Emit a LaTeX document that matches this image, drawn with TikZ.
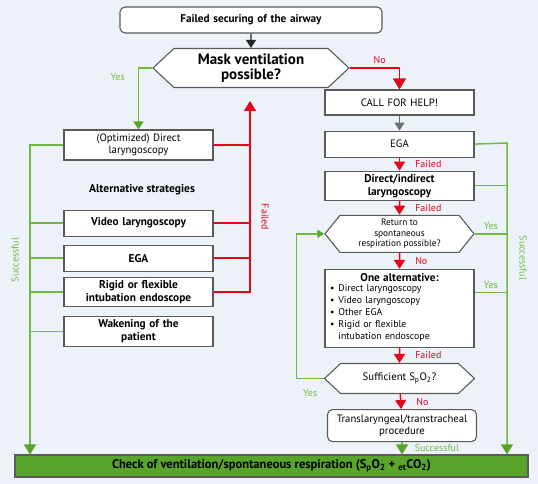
\documentclass[tikz,border=0pt]{standalone}
\usepackage{fontspec}
\setmainfont{PT Sans}
\usetikzlibrary{shapes.geometric, shapes.symbols, arrows.meta, positioning}
\definecolor{mback}{HTML}{EDF2F9}
\definecolor{mred}{HTML}{E3061B}
\definecolor{mgreen}{HTML}{72B944}
\definecolor{mdkgreen}{HTML}{58A52C}
\definecolor{mgray}{HTML}{5A5A5A}
\definecolor{marrow}{HTML}{6F6F6F}
\tikzstyle{box} = [rectangle, draw=mgray, line width=1.1pt, fill=white, text width=143pt, inner xsep=3pt, inner ysep=1.5pt, align=center, font=\fontsize{10.7}{12.6}\selectfont]
\tikzstyle{boldbox} = [box, font=\fontsize{11.3}{13}\selectfont\bfseries]
\tikzstyle{roundbox} = [box, rounded corners=5pt]
\tikzstyle{decision} = [signal, signal to=west and east, draw=mgray, line width=1.1pt, fill=white, align=center, inner sep=1pt]
\tikzstyle{failline} = [mred, line width=1.5pt]
\tikzstyle{failarrow} = [failline, -{Triangle[width=11pt,length=9pt]}]
\tikzstyle{okline} = [mgreen, line width=1.5pt]
\tikzstyle{okarrow} = [okline, -{Triangle[width=12pt,length=10pt,color=mdkgreen]}]
\tikzstyle{faillabel} = [text=mred, inner sep=1pt, font=\fontsize{10}{12}\selectfont]
\tikzstyle{yeslabel} = [text=mgreen, inner sep=1pt, font=\fontsize{10}{12}\selectfont]

\begin{document}
\begin{tikzpicture}[x=1pt, y=-1pt, node distance=14pt]
  \fill[mback] (0,0) rectangle (538,484);
  \useasboundingbox (0,0) rectangle (538,484);

  % top of the chart
  \node (start) [roundbox, text width=256pt, minimum height=26pt, font=\fontsize{11.2}{13}\selectfont\bfseries] at (251,20) {Failed securing of the airway};
  \node (mask) [decision, minimum width=196pt, minimum height=39pt, signal pointer angle=86, font=\fontsize{15}{15.5}\selectfont\bfseries] at (251,68) {Mask ventilation\\possible?};

  % left column
  \node (dl) [box, minimum height=30pt] at (138.5,145) {(Optimized) Direct\\laryngoscopy};
  \node (altlabel) [font=\fontsize{11.5}{13}\selectfont\bfseries] at (142,190) {Alternative strategies};
  \node (vl) [boldbox, minimum height=26pt, below=49pt of dl] {Video laryngoscopy};
  \node (ega1) [boldbox, minimum height=26pt, below=8pt of vl] {EGA};
  \node (rig) [boldbox, minimum height=29pt, below=5pt of ega1] {Rigid or flexible\\intubation endoscope};
  \node (wak) [boldbox, minimum height=30pt, below=9pt of rig] {Wakening of the\\patient};

  % right column
  \node (help) [box, minimum height=25pt] at (399.5,102.5) {CALL FOR HELP!};
  \node (ega2) [box, minimum height=26pt, below=15pt of help] {EGA};
  \node (dil) [boldbox, minimum height=29pt, below=13pt of ega2] {Direct/indirect\\laryngoscopy};
  \node (ret) [decision, minimum width=149pt, minimum height=37pt, signal pointer angle=102, font=\fontsize{9.3}{10.5}\selectfont, below=14pt of dil] {Return to\\spontaneous\\respiration possible?};
  \node (alt) [box, text width=139pt, inner xsep=5pt, inner ysep=1pt, minimum height=78pt, align=left, font=\fontsize{9.8}{12.2}\selectfont, below=16pt of ret] {\makebox[\linewidth]{\fontsize{11.3}{12}\selectfont\bfseries One alternative:}\\
    \begin{tabular}{@{}l@{\hspace{4pt}}l@{}}
      \textbullet & Direct laryngoscopy\\
      \textbullet & Video laryngoscopy\\
      \textbullet & Other EGA\\
      \textbullet & Rigid or flexible\\
                  & intubation endoscope
    \end{tabular}};
  \node (spo) [decision, minimum width=150pt, minimum height=30pt, signal pointer angle=86, font=\fontsize{10.8}{12}\selectfont, below=15pt of alt] {Sufficient S\textsubscript{p}O\textsubscript{2}?};
  \node (trans) [roundbox, minimum height=32pt, below=15pt of spo, xshift=2.5pt] {Translaryngeal/transtracheal\\procedure};

  % bottom bar
  \node (check) [rectangle, draw=mgray, line width=1.1pt, fill=mdkgreen, minimum width=513pt, minimum height=22pt, inner sep=0pt, font=\fontsize{12.5}{13}\selectfont\bfseries] at (271.5,466) {Check of ventilation/spontaneous respiration (S\textsubscript{p}O\textsubscript{2} + \textsubscript{et}CO\textsubscript{2})};

  \coordinate (gl) at (30,145);
  \coordinate (gr) at (507,143);
  \coordinate (fb) at (250,101);
  \coordinate (altyes) at ([yshift=16pt]alt.east);

  % connectors
  \draw [line width=1.2pt, black!85, -{Triangle[width=10pt,length=8pt]}] (start) -- (mask);
  \draw [failarrow, -{Triangle[width=13pt,length=11pt]}] (mask.east) -| node[faillabel, pos=0.3, above=3pt]{No} (help.north);
  \draw [okline, -{Triangle[width=10pt,length=8pt,color=mdkgreen]}] (mask.west) -| node[yeslabel, pos=0.5, left=12pt, yshift=-9pt]{Yes} (dl.north);
  \draw [line width=1.2pt, marrow, -{Triangle[width=10pt,length=8pt]}] (help) -- (ega2);
  \draw [failarrow] (ega2) -- node[faillabel, right=14pt]{Failed} (dil);
  \draw [failarrow] (dil) -- node[faillabel, right=14pt]{Failed} (ret);
  \draw [failarrow] (ret) -- node[faillabel, right=14pt]{No} (alt);
  \draw [failarrow] (alt) -- node[faillabel, right=14pt]{Failed} (spo);
  \draw [failarrow] (spo) -- node[faillabel, right=14pt]{No} (trans);
  \draw [okarrow] (trans) -- node[yeslabel, right=11pt]{Successful} (trans |- check.north);

  % failed loop on the left
  \foreach \n in {dl, vl, ega1}
    \draw [failline] (\n.east) -- (\n.east -| fb);
  \draw [failarrow, -{Triangle[width=12pt,length=10pt]}] (rig.east) -| (fb);
  \node [faillabel, rotate=-90] at (265,217) {Failed};

  % successful lines
  \draw [okarrow] (dl.west) -- (gl) -- (gl |- check.north);
  \foreach \n in {vl, ega1, rig, wak}
    \draw [okline] (\n.west) -- (\n.west -| gl);
  \node [yeslabel, rotate=90] at (15,260) {Successful};

  \draw [okarrow] (ega2.east) -- (gr) -- (gr |- check.north);
  \draw [okline] (dil.east) -- (dil.east -| gr);
  \draw [okline] (ret.east) -- node[yeslabel, above=2pt]{Yes} (ret.east -| gr);
  \draw [okline] (altyes) -- node[yeslabel, above=2pt]{Yes} (altyes -| gr);
  \node [yeslabel, rotate=-90] at (523,258) {Successful};

  \draw [okline, -{Triangle[width=8pt,length=7pt,color=mdkgreen]}] (spo.west) -- node[yeslabel, below=9pt]{Yes} ++(-27,0) |- (ret.west);
\end{tikzpicture}
\end{document}
